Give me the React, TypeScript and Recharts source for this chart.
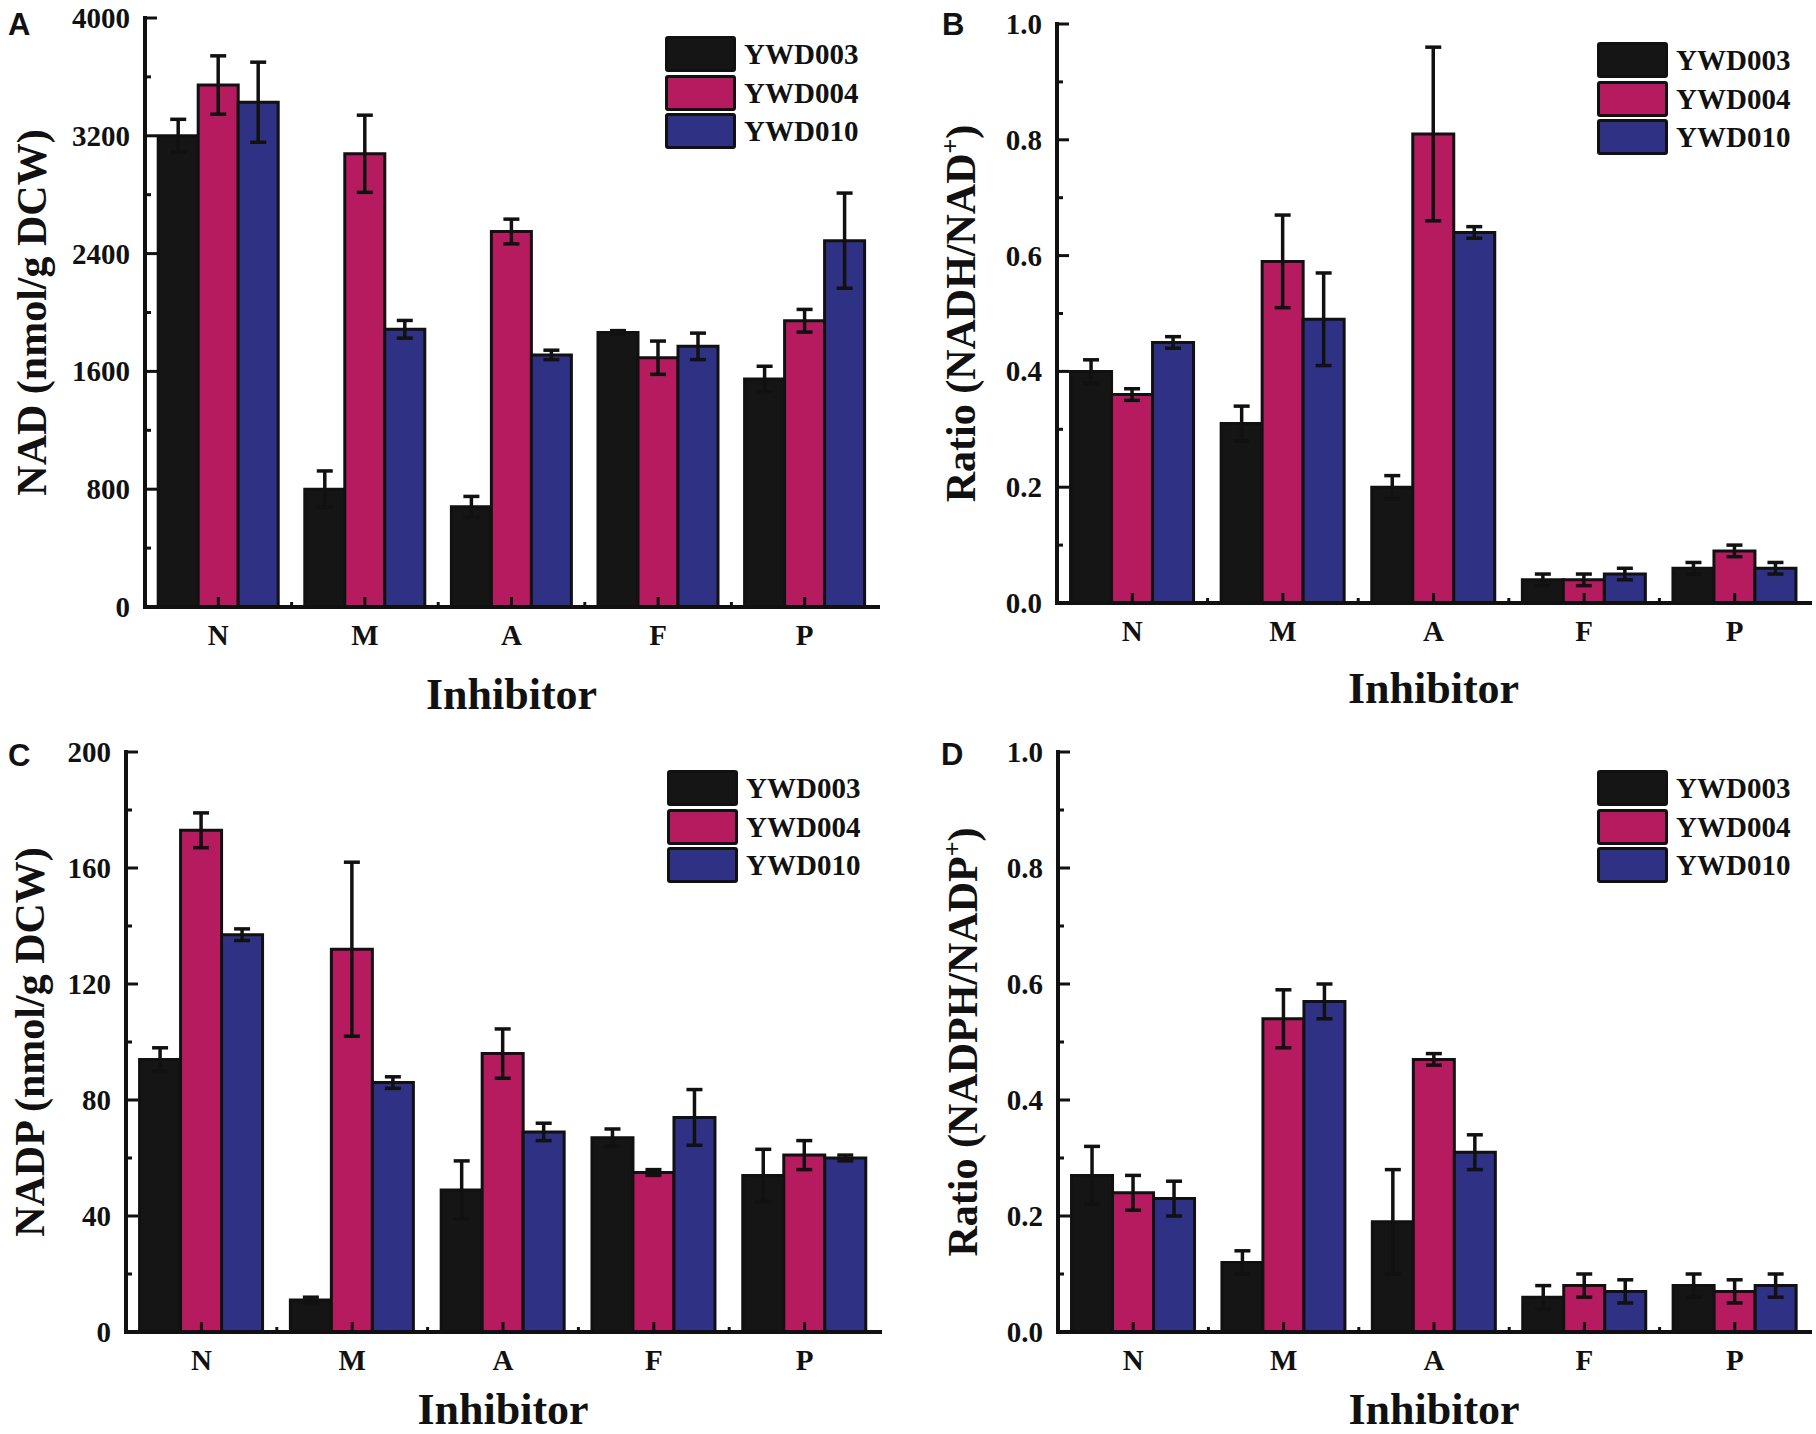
import React from "react";
import { BarChart, Bar, XAxis, YAxis, ErrorBar, Legend, Label } from "recharts";

const categories = ["N", "M", "A", "F", "P"];
const strains = ["YWD003", "YWD004", "YWD010"];
const strainColors = ["#151515", "#b71b5f", "#2f3185"];
const ink = "#111";
const serif = "'Liberation Serif', 'Times New Roman', serif";

// A: NAD (nmol/g DCW)
const nad003 = [3200, 800, 680, 1865, 1548];
const nad003Err = [112, 124, 71, 12, 87];
const nad004 = [3545, 3078, 2550, 1693, 1944];
const nad004Err = [198, 262, 84, 113, 77];
const nad010 = [3428, 1886, 1712, 1770, 2488];
const nad010Err = [272, 60, 32, 90, 323];
const nadTicks = [0, 800, 1600, 2400, 3200, 4000];
const nadMinor = [400, 1200, 2000, 2800, 3600];

// B: NADH/NAD+
const nadh003 = [0.4, 0.31, 0.2, 0.04, 0.06];
const nadh003Err = [0.02, 0.03, 0.02, 0.01, 0.01];
const nadh004 = [0.36, 0.59, 0.81, 0.04, 0.09];
const nadh004Err = [0.01, 0.08, 0.15, 0.01, 0.01];
const nadh010 = [0.45, 0.49, 0.64, 0.05, 0.06];
const nadh010Err = [0.01, 0.08, 0.01, 0.01, 0.01];

// C: NADP (nmol/g DCW)
const nadp003 = [94, 11, 49, 67, 54];
const nadp003Err = [4, 1, 10, 3, 9];
const nadp004 = [173, 132, 96, 55, 61];
const nadp004Err = [6, 30, 8.5, 1, 5];
const nadp010 = [137, 86, 69, 74, 60];
const nadp010Err = [2, 2, 3, 9.6, 1];
const nadpTicks = [0, 40, 80, 120, 160, 200];
const nadpMinor = [20, 60, 100, 140, 180];

// D: NADPH/NADP+
const nadph003 = [0.27, 0.12, 0.19, 0.06, 0.08];
const nadph003Err = [0.05, 0.02, 0.09, 0.02, 0.02];
const nadph004 = [0.24, 0.54, 0.47, 0.08, 0.07];
const nadph004Err = [0.03, 0.05, 0.01, 0.02, 0.02];
const nadph010 = [0.23, 0.57, 0.31, 0.07, 0.08];
const nadph010Err = [0.03, 0.03, 0.03, 0.02, 0.02];

const ratioTicks = [0, 0.2, 0.4, 0.6, 0.8, 1.0];
const ratioMinor = [0.1, 0.3, 0.5, 0.7, 0.9];

function buildRows(values: number[][], errors: number[][]) {
  return categories.map((cat, i) => {
    const row: Record<string, number | string> = { cat };
    values.forEach((v, k) => {
      row[`v${k}`] = v[i];
      row[`e${k}`] = errors[k][i];
    });
    return row;
  });
}

const renderLegend = ({ payload }: any) => (
  <div>
    {(payload || []).map((entry: any) => (
      <div key={entry.value} style={{ display: "flex", alignItems: "center", height: 38.5 }}>
        <div
          style={{
            width: 71,
            height: 36,
            boxSizing: "border-box",
            border: `3px solid ${ink}`,
            borderRadius: 3,
            background: entry.color,
          }}
        />
        <span
          style={{
            marginLeft: 8,
            fontFamily: serif,
            fontWeight: 700,
            fontSize: 29,
            lineHeight: "36px",
            color: ink,
          }}
        >
          {entry.value}
        </span>
      </div>
    ))}
  </div>
);

interface PanelProps {
  left: number;
  top: number;
  height: number;
  plot: [number, number, number, number];
  domain: [number, number];
  labels: number[];
  minor: number[];
  fmt: (v: number) => string;
  values: number[][];
  errors: number[][];
  yTitle: React.ReactNode;
  yTitleX: number;
  xTitleY: number;
}

const W = 908;

function Panel(p: PanelProps) {
  const [x0, x1, y0, y1] = p.plot;
  const H = p.height;
  const band = (x1 - x0) / categories.length;
  const rows = buildRows(p.values, p.errors);
  const ticks = [...p.labels, ...p.minor].sort((a, b) => a - b);

  const YTick = (t: any) => {
    const v = t.payload.value;
    const major = p.labels.includes(v);
    return (
      <g>
        <line x1={x0} x2={x0 + (major ? 12 : 6)} y1={t.y} y2={t.y} stroke={ink} strokeWidth={3} />
        {major && (
          <text
            x={x0 - 15}
            y={t.y + 10}
            textAnchor="end"
            fontFamily={serif}
            fontWeight={700}
            fontSize={29}
            fill={ink}
          >
            {p.fmt(v)}
          </text>
        )}
      </g>
    );
  };

  const XTick = (t: any) => (
    <g>
      <line x1={t.x} x2={t.x} y1={y1} y2={y1 - 10} stroke={ink} strokeWidth={3} />
      {t.index < categories.length - 1 && (
        <line x1={t.x + band / 2} x2={t.x + band / 2} y1={y1} y2={y1 - 5} stroke={ink} strokeWidth={3} />
      )}
      <text x={t.x} y={y1 + 38} textAnchor="middle" fontFamily={serif} fontWeight={700} fontSize={29} fill={ink}>
        {t.payload.value}
      </text>
    </g>
  );

  const cy = (y0 + y1) / 2;

  return (
    <div style={{ position: "absolute", left: p.left, top: p.top, width: W, height: H }}>
      <BarChart
        width={W}
        height={H}
        data={rows}
        margin={{ top: y0, right: W - x1, left: 0, bottom: 0 }}
        barCategoryGap="9%"
        barGap={0}
      >
        {strains.map((s, k) => (
          <Bar
            key={s}
            dataKey={`v${k}`}
            name={s}
            fill={strainColors[k]}
            stroke={ink}
            strokeWidth={3}
            isAnimationActive={false}
          >
            <ErrorBar dataKey={`e${k}`} width={8} strokeWidth={3.5} stroke={ink} isAnimationActive={false} />
          </Bar>
        ))}
        <XAxis
          dataKey="cat"
          height={H - y1}
          tickLine={false}
          tickSize={0}
          tickMargin={0}
          tick={XTick}
          axisLine={{ stroke: ink, strokeWidth: 4, strokeLinecap: "square" }}
        >
          <Label
            content={() => (
              <text
                x={(x0 + x1) / 2}
                y={p.xTitleY}
                textAnchor="middle"
                fontFamily={serif}
                fontWeight={700}
                fontSize={44}
                fill={ink}
              >
                Inhibitor
              </text>
            )}
          />
        </XAxis>
        <XAxis
          xAxisId="top"
          dataKey="cat"
          orientation="top"
          height={0}
          tick={false}
          tickLine={false}
          axisLine={{ stroke: ink, strokeWidth: 4, strokeLinecap: "square" }}
        />
        <YAxis
          width={x0}
          type="number"
          domain={p.domain}
          ticks={ticks}
          interval={0}
          allowDataOverflow
          tickLine={false}
          tickSize={0}
          tickMargin={0}
          tick={YTick}
          axisLine={{ stroke: ink, strokeWidth: 4, strokeLinecap: "square" }}
        >
          <Label
            content={() => (
              <text
                x={p.yTitleX}
                y={cy}
                transform={`rotate(-90, ${p.yTitleX}, ${cy})`}
                textAnchor="middle"
                fontFamily={serif}
                fontWeight={700}
                fontSize={42}
                fill={ink}
              >
                {p.yTitle}
              </text>
            )}
          />
        </YAxis>
        <YAxis
          yAxisId="right"
          orientation="right"
          width={0}
          domain={p.domain}
          tick={false}
          tickLine={false}
          axisLine={{ stroke: ink, strokeWidth: 4, strokeLinecap: "square" }}
        />
        <Legend
          layout="vertical"
          align="center"
          verticalAlign="middle"
          content={renderLegend}
          wrapperStyle={{ left: x1 - 213, top: y0 + 17, width: 210 }}
        />
      </BarChart>
    </div>
  );
}

const letterStyle: React.CSSProperties = {
  position: "absolute",
  fontFamily: "'Liberation Sans', Arial, sans-serif",
  fontWeight: 700,
  fontSize: 31,
  lineHeight: "31px",
  color: ink,
};

export default function App() {
  const int = (v: number) => String(v);
  const one = (v: number) => v.toFixed(1);
  return (
    <div style={{ position: "absolute", left: 0, top: 0, width: 1816, height: 1434, background: "#fff" }}>
      <Panel
        left={0}
        top={0}
        height={730}
        plot={[145, 878, 18, 607]}
        domain={[0, 4000]}
        labels={nadTicks}
        minor={nadMinor}
        fmt={int}
        values={[nad003, nad004, nad010]}
        errors={[nad003Err, nad004Err, nad010Err]}
        yTitle="NAD (nmol/g DCW)"
        yTitleX={46}
        xTitleY={709}
      />
      <Panel
        left={908}
        top={0}
        height={730}
        plot={[149, 902, 24, 603]}
        domain={[0, 1]}
        labels={ratioTicks}
        minor={ratioMinor}
        fmt={one}
        values={[nadh003, nadh004, nadh010]}
        errors={[nadh003Err, nadh004Err, nadh010Err]}
        yTitle={
          <>
            Ratio (NADH/NAD
            <tspan dy={-16} fontSize={26}>+</tspan>
            <tspan dy={16}>)</tspan>
          </>
        }
        yTitleX={67}
        xTitleY={703}
      />
      <Panel
        left={0}
        top={717}
        height={717}
        plot={[126, 880, 35, 615]}
        domain={[0, 200]}
        labels={nadpTicks}
        minor={nadpMinor}
        fmt={int}
        values={[nadp003, nadp004, nadp010]}
        errors={[nadp003Err, nadp004Err, nadp010Err]}
        yTitle="NADP (nmol/g DCW)"
        yTitleX={44}
        xTitleY={707}
      />
      <Panel
        left={908}
        top={717}
        height={717}
        plot={[150, 902, 35, 615]}
        domain={[0, 1]}
        labels={ratioTicks}
        minor={ratioMinor}
        fmt={one}
        values={[nadph003, nadph004, nadph010]}
        errors={[nadph003Err, nadph004Err, nadph010Err]}
        yTitle={
          <>
            Ratio (NADPH/NADP
            <tspan dy={-16} fontSize={26}>+</tspan>
            <tspan dy={16}>)</tspan>
          </>
        }
        yTitleX={69}
        xTitleY={707}
      />
      <div style={{ ...letterStyle, left: 8, top: 9 }}>A</div>
      <div style={{ ...letterStyle, left: 942, top: 9 }}>B</div>
      <div style={{ ...letterStyle, left: 8, top: 740 }}>C</div>
      <div style={{ ...letterStyle, left: 941, top: 739 }}>D</div>
    </div>
  );
}
